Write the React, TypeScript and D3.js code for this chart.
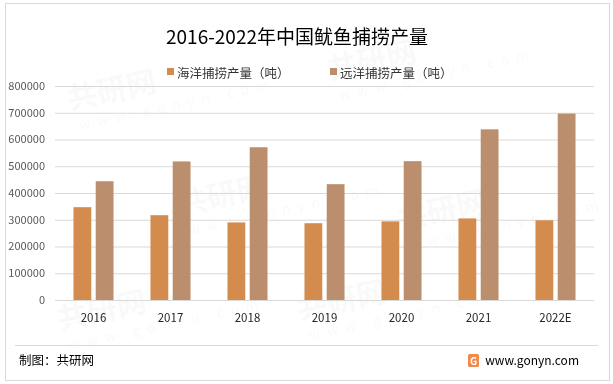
import { useEffect, useRef } from "react";
import * as d3 from "d3";

// 数据
const years = ["2016", "2017", "2018", "2019", "2020", "2021", "2022E"];
const seriesNames = ["海洋捕捞产量（吨）", "远洋捕捞产量（吨）"];
const marineCatch = [347000, 317000, 290000, 287000, 294000, 305000, 298000];
const oceanCatch = [444000, 518000, 571000, 433000, 519000, 638000, 697000];
const yTicks = [0, 100000, 200000, 300000, 400000, 500000, 600000, 700000, 800000];
const colors = ["#D48C4E", "#BB8F6D"];

const W = 613;
const H = 384;
const FONT = "'Noto Sans CJK SC', 'Noto Sans', sans-serif";

export default function App() {
  const svgRef = useRef<SVGSVGElement>(null);

  useEffect(() => {
    if (!svgRef.current) return;
    const svg = d3.select(svgRef.current);
    svg.selectAll("*").remove();

    const margin = { top: 86, left: 55, right: W - 594, bottom: H - 300 };
    const chartW = W - margin.left - margin.right;

    // 外框
    svg
      .append("rect")
      .attr("x", 5.5)
      .attr("y", 3.5)
      .attr("width", 604)
      .attr("height", 377)
      .attr("fill", "#fff")
      .attr("stroke", "#d9d9d9");

    // 水印（很淡）
    const wm = svg.append("g").attr("fill", "#000").attr("opacity", 0.025);
    [
      [70, 110],
      [330, 80],
      [180, 215],
      [400, 230],
      [60, 330],
      [300, 320],
    ].forEach(([x, y]) => {
      wm.append("text")
        .attr("transform", `translate(${x},${y}) rotate(-12)`)
        .attr("font-family", FONT)
        .attr("font-size", 30)
        .attr("font-weight", "bold")
        .text("共研网");
      wm.append("text")
        .attr("transform", `translate(${x + 10},${y + 20}) rotate(-12)`)
        .attr("font-family", FONT)
        .attr("font-size", 14)
        .attr("letter-spacing", 7)
        .text("www.gonyn.com");
    });

    // 标题
    svg
      .append("text")
      .attr("x", 297)
      .attr("y", 44)
      .attr("text-anchor", "middle")
      .attr("font-family", FONT)
      .attr("font-size", 19)
      .attr("fill", "#000")
      .text("2016-2022年中国鱿鱼捕捞产量");

    // 图例
    const legendX = [167, 330];
    seriesNames.forEach((name, i) => {
      const lg = svg.append("g").attr("transform", `translate(${legendX[i]},72)`);
      lg.append("rect").attr("x", 0).attr("y", -4).attr("width", 7).attr("height", 7).attr("fill", colors[i]);
      lg.append("text")
        .attr("x", 10)
        .attr("y", 0)
        .attr("dominant-baseline", "central")
        .attr("font-family", FONT)
        .attr("font-size", 12.5)
        .attr("fill", "#333")
        .text(name);
    });

    // 比例尺
    const x0 = d3
      .scaleBand()
      .domain(years)
      .range([margin.left, margin.left + chartW])
      .paddingInner(0.48)
      .paddingOuter(0.24);

    const x1 = d3
      .scaleBand()
      .domain(["0", "1"])
      .range([0, x0.bandwidth()])
      .paddingInner(0.2);

    const y = d3.scaleLinear().domain([0, 800000]).range([H - margin.bottom, margin.top]);

    // 网格线
    svg
      .append("g")
      .attr("transform", `translate(${margin.left},0)`)
      .call(
        d3
          .axisLeft(y)
          .tickValues(yTicks)
          .tickSize(-chartW)
          .tickFormat(() => "")
      )
      .call((g) => g.select(".domain").remove())
      .selectAll("line")
      .attr("stroke", "#d9d9d9");

    // Y轴标签
    svg
      .append("g")
      .selectAll("text")
      .data(yTicks)
      .enter()
      .append("text")
      .attr("x", 45)
      .attr("y", (d) => y(d))
      .attr("dy", "0.35em")
      .attr("text-anchor", "end")
      .attr("font-family", FONT)
      .attr("font-size", 11)
      .attr("fill", "#595959")
      .text((d) => String(d));

    // 柱子
    const seriesData = [marineCatch, oceanCatch];
    seriesData.forEach((vals, si) => {
      svg
        .append("g")
        .selectAll("rect")
        .data(vals)
        .enter()
        .append("rect")
        .attr("x", (_, i) => (x0(years[i]) || 0) + (x1(String(si)) || 0))
        .attr("y", (d) => y(d))
        .attr("width", x1.bandwidth())
        .attr("height", (d) => y(0) - y(d))
        .attr("fill", colors[si]);
    });

    // X轴标签
    svg
      .append("g")
      .selectAll("text")
      .data(years)
      .enter()
      .append("text")
      .attr("x", (d) => (x0(d) || 0) + x0.bandwidth() / 2)
      .attr("y", 318)
      .attr("dy", "0.35em")
      .attr("text-anchor", "middle")
      .attr("font-family", FONT)
      .attr("font-size", 11.5)
      .attr("fill", "#262626")
      .text((d) => d);

    // 分隔线
    svg
      .append("line")
      .attr("x1", 15)
      .attr("x2", 598)
      .attr("y1", 345.5)
      .attr("y2", 345.5)
      .attr("stroke", "#d9d9d9");

    // 底部来源
    svg
      .append("text")
      .attr("x", 19)
      .attr("y", 361)
      .attr("dy", "0.35em")
      .attr("font-family", FONT)
      .attr("font-size", 12.5)
      .attr("fill", "#000")
      .text("制图：共研网");

    const logo = svg.append("g").attr("transform", "translate(468,354)");
    logo.append("rect").attr("width", 11).attr("height", 13).attr("rx", 1.5).attr("fill", "#F08A4B");
    logo
      .append("text")
      .attr("x", 5.5)
      .attr("y", 7)
      .attr("dy", "0.35em")
      .attr("text-anchor", "middle")
      .attr("font-family", FONT)
      .attr("font-size", 10)
      .attr("font-weight", "bold")
      .attr("fill", "#fff")
      .text("G");

    svg
      .append("text")
      .attr("x", 579)
      .attr("y", 361)
      .attr("dy", "0.35em")
      .attr("text-anchor", "end")
      .attr("font-family", FONT)
      .attr("font-size", 12)
      .attr("fill", "#000")
      .text("www.gonyn.com");
  }, []);

  return (
    <svg
      ref={svgRef}
      width={W}
      height={H}
      style={{ position: "absolute", left: 0, top: 0, display: "block" }}
    />
  );
}
